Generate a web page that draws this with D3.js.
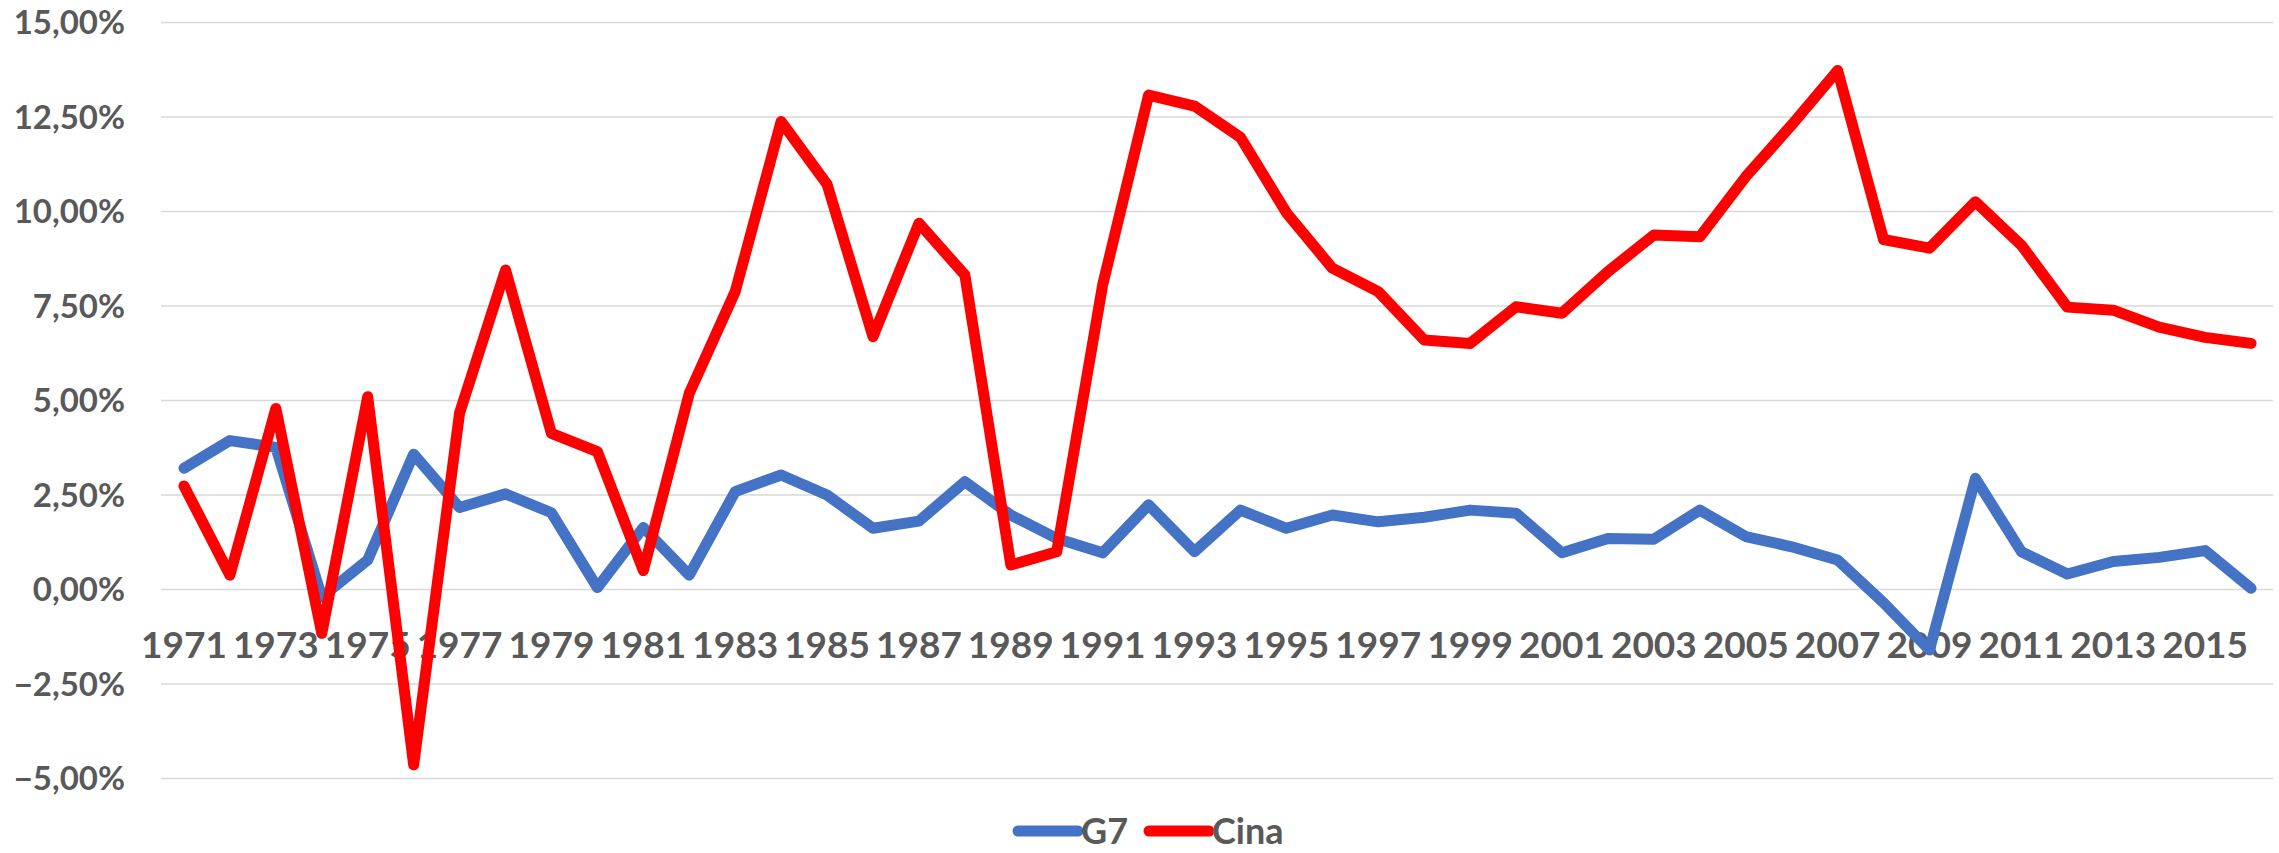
<!DOCTYPE html>
<html>
<head>
<meta charset="utf-8">
<script src="https://cdn.jsdelivr.net/npm/d3@7"></script>
<style>
  html, body { margin: 0; padding: 0; background: #fff; }
  svg { display: block; }
  text { font-family: Lato, "Open Sans", sans-serif; font-weight: bold; fill: #595959; }
</style>
</head>
<body>
<div id="chart"></div>
<script>
// years on the category axis
const years = d3.range(1971, 2017);

// growth rates in percent
const g7 = [
  3.21, 3.94, 3.76, -0.2, 0.78, 3.58, 2.17, 2.53, 2.03, 0.05,
  1.64, 0.38, 2.59, 3.03, 2.5, 1.62, 1.81, 2.85, 1.97, 1.35,
  0.97, 2.24, 1.0, 2.1, 1.62, 1.97, 1.79, 1.91, 2.1, 2.02,
  0.97, 1.35, 1.33, 2.1, 1.4, 1.13, 0.78, -0.35, -1.6, 2.94,
  1.0, 0.41, 0.74, 0.85, 1.03, 0.03
];
const cina = [
  2.74, 0.38, 4.79, -1.16, 5.1, -4.64, 4.67, 8.45, 4.13, 3.65,
  0.5, 5.19, 7.88, 12.38, 10.72, 6.69, 9.69, 8.32, 0.65, 1.0,
  8.06, 13.08, 12.79, 11.96, 9.97, 8.5, 7.88, 6.6, 6.51, 7.48,
  7.31, 8.41, 9.38, 9.33, 10.92, 12.29, 13.73, 9.26, 9.03, 10.26,
  9.11, 7.47, 7.39, 6.94, 6.67, 6.51
];

const yTicks = [-5, -2.5, 0, 2.5, 5, 7.5, 10, 12.5, 15];
const seriesNames = ["G7", "Cina"];
const seriesColors = ["#4472C4", "#FF0000"];

const width = 2279, height = 853;
const margin = { top: 22.5, right: 5, bottom: 74.5, left: 161 };

const svg = d3.select("#chart").append("svg")
  .attr("width", width)
  .attr("height", height);

const x = d3.scaleBand()
  .domain(years)
  .range([margin.left, width - margin.right])
  .padding(0);

const y = d3.scaleLinear()
  .domain([-5, 15])
  .range([height - margin.bottom, margin.top]);

const fmt = v => d3.format(".2f")(v).replace(".", ",") + "%";

// horizontal gridlines
svg.append("g")
  .selectAll("line")
  .data(yTicks)
  .join("line")
  .attr("x1", margin.left)
  .attr("x2", width - margin.right - 1)
  .attr("y1", d => y(d))
  .attr("y2", d => y(d))
  .attr("stroke", "#d9d9d9")
  .attr("stroke-width", 1.5);

// y axis labels
svg.append("g")
  .selectAll("text")
  .data(yTicks)
  .join("text")
  .attr("x", 125)
  .attr("y", d => y(d))
  .attr("dy", "0.36em")
  .attr("text-anchor", "end")
  .style("font-size", "33px")
  .text(fmt);

// category labels sit just under the zero line, every other year
svg.append("g")
  .selectAll("text")
  .data(years.filter((d, i) => i % 2 === 0))
  .join("text")
  .attr("x", d => x(d) + x.bandwidth() / 2)
  .attr("y", y(0) + 68)
  .attr("text-anchor", "middle")
  .style("font-size", "37px")
  .text(d => d);

// lines
const line = d3.line()
  .x((d, i) => x(years[i]) + x.bandwidth() / 2)
  .y(d => y(d));

[g7, cina].forEach((values, k) => {
  svg.append("path")
    .datum(values)
    .attr("d", line)
    .attr("fill", "none")
    .attr("stroke", seriesColors[k])
    .attr("stroke-width", 11)
    .attr("stroke-linejoin", "round")
    .attr("stroke-linecap", "round");
});

// legend
const legendX = [1018, 1149];
const legend = svg.append("g")
  .selectAll("g")
  .data(seriesNames)
  .join("g")
  .attr("transform", (d, i) => `translate(${legendX[i]},831)`);

legend.append("line")
  .attr("x1", 0)
  .attr("x2", 60)
  .attr("stroke", (d, i) => seriesColors[i])
  .attr("stroke-width", 11)
  .attr("stroke-linecap", "round");

legend.append("text")
  .attr("x", 63)
  .attr("y", 13)
  .style("font-size", "36px")
  .text(d => d);
</script>
</body>
</html>
